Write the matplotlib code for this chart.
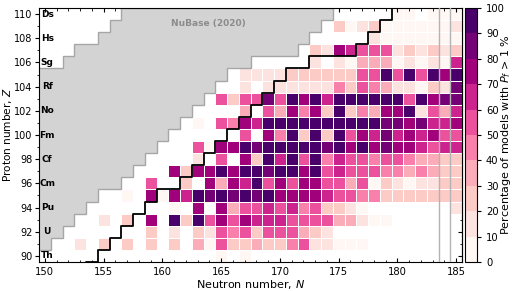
import numpy as np
import matplotlib
matplotlib.use("Agg")
import matplotlib.pyplot as plt
from matplotlib.colors import BoundaryNorm
from matplotlib.patches import Polygon
from matplotlib.ticker import MultipleLocator

_ = np.nan

# Neutron numbers (columns) and proton numbers (rows)
N_values = list(range(150, 186))
Z_values = list(range(90, 111))

# Percentage of models with P_f > 1 %, one list per Z, N = 150..185 (nan = no data)
z090 = [_, _, _, _, _, _, _, _, _, _, _, _, _, _, _, 5, _, 5, _, _, _, _, _, _, _, _, _, _, _, _, _, _, _, _, _, _]
z091 = [_, _, _, 15, _, 25, _, 25, _, 25, _, 25, _, 35, 5, 55, 25, 25, 35, 25, 25, 45, 55, 15, 15, 5, 5, 5, _, _, _, _, _, _, _, _]
z092 = [_, _, _, _, _, _, _, _, _, 25, _, 15, _, 25, 15, 55, 45, 55, 25, 55, 55, 55, 35, 25, 15, _, _, _, _, _, _, _, _, _, _, _]
z093 = [_, _, _, _, _, 15, _, 25, _, 75, _, 95, 25, 95, 55, 75, 55, 75, 65, 65, 65, 55, 55, 55, 55, 35, 35, 15, 5, 5, _, _, _, _, _, _]
z094 = [_, _, _, _, _, _, _, _, _, _, _, 5, _, 75, _, 75, 35, 55, 55, 65, 55, 65, 45, 55, 25, 25, 15, 5, _, _, _, _, _, _, _, 15]
z095 = [_, _, _, _, _, _, _, 5, _, 75, 5, 75, 65, 95, 85, 95, 85, 95, 85, 95, 75, 75, 75, 75, 65, 55, 55, 45, 45, 25, 25, 25, 25, 25, 25, 25]
z096 = [_, _, _, _, _, _, _, _, _, 55, _, _, 25, _, 75, 35, 75, 65, 95, 55, 75, 55, 75, 75, 55, 55, 35, 55, 5, 25, 15, 5, 15, 15, 25, 25]
z097 = [_, _, _, _, _, _, _, _, _, _, _, 75, 25, 75, 75, 95, 75, 95, 95, 85, 95, 95, 75, 95, 55, 65, 55, 55, 55, 45, 45, 35, 45, 35, 25, 25]
z098 = [_, _, _, _, _, _, _, _, _, _, _, _, _, 15, _, 55, _, 75, 25, 95, 65, 95, 55, 95, 45, 65, 55, 55, 45, 55, 55, 45, 35, 35, 25, 25]
z099 = [_, _, _, _, _, _, _, _, _, _, _, _, _, 55, 5, 75, 75, 95, 85, 95, 95, 95, 95, 95, 85, 95, 75, 95, 75, 85, 75, 75, 65, 55, 65, 65]
z100 = [_, _, _, _, _, _, _, _, _, _, _, _, _, _, _, _, _, 55, _, 75, 45, 95, 25, 95, 25, 95, 55, 75, 65, 85, 65, 75, 65, 75, 55, 55]
z101 = [_, _, _, _, _, _, _, _, _, _, _, _, _, 5, _, 55, 45, 75, 65, 95, 95, 95, 95, 95, 95, 95, 95, 95, 95, 85, 85, 75, 85, 65, 65, 75]
z102 = [_, _, _, _, _, _, _, _, _, _, _, _, _, _, _, _, _, 35, _, 55, 35, 75, 45, 75, 25, 95, 25, 45, 35, 75, 75, 95, 15, 55, 35, 65]
z103 = [_, _, _, _, _, _, _, _, _, _, _, _, _, _, _, 55, 25, 55, 55, 85, 55, 95, 75, 95, 65, 95, 95, 95, 95, 95, 95, 55, 95, 75, 85, 85]
z104 = [_, _, _, _, _, _, _, _, _, _, _, _, _, _, _, _, _, 15, _, 15, 15, 15, 15, 15, 15, 45, 25, 55, 45, 35, 15, 15, 5, 25, 15, 85]
z105 = [_, _, _, _, _, _, _, _, _, _, _, _, _, _, _, _, _, 15, 15, 15, 15, 25, 25, 25, 25, 25, 25, 55, 55, 95, 55, 95, 55, 95, 75, 95]
z106 = [_, _, _, _, _, _, _, _, _, _, _, _, _, _, _, _, _, _, _, _, _, _, _, 15, _, 15, 5, 35, 35, 35, 5, 15, 5, 15, 5, 65]
z107 = [_, _, _, _, _, _, _, _, _, _, _, _, _, _, _, _, _, _, _, _, _, _, _, 25, 15, 75, 65, 55, 55, 55, 15, 25, 15, 25, 15, 25]
z108 = [_, _, _, _, _, _, _, _, _, _, _, _, _, _, _, _, _, _, _, _, _, _, _, _, _, _, _, _, 15, 5, 5, 5, 5, 5, 5, 5]
z109 = [_, _, _, _, _, _, _, _, _, _, _, _, _, _, _, _, _, _, _, _, _, _, _, _, _, 25, 5, 15, 25, 5, 5, 5, 5, 5, 5, 15]
z110 = [_, _, _, _, _, _, _, _, _, _, _, _, _, _, _, _, _, _, _, _, _, _, _, _, _, _, _, _, _, _, 5, 5, _, 5, 5, 5]

# NuBase (2020) known nuclei: per Z, first and last N
nubase_Z = [91, 92, 93, 94, 95, 96, 97, 98, 99, 100, 101, 102, 103, 104, 105, 106, 107, 108, 109, 110]
nubase_Nmin = [140, 140, 140, 140, 140, 140, 140, 140, 140, 140, 140, 140, 140, 140, 140, 152, 153, 155, 156, 157]
nubase_Nmax = [150, 151, 152, 153, 154, 156, 157, 158, 159, 160, 161, 162, 163, 164, 165, 167, 171, 172, 173, 174]

# Black boundary: last N inside, per Z
line_Z = list(range(89, 112))
line_Nmax = [153, 154, 155, 156, 157, 158, 159, 161, 162, 163, 164, 165, 166, 167, 168, 169, 170, 172, 176, 177, 178, 179, 180]

# Vertical reference lines
vlines_N = [183.5, 184.5]

elements = ["Th", "U", "Pu", "Cm", "Cf", "Fm", "No", "Rf", "Sg", "Hs", "Ds"]
element_Z = [90, 92, 94, 96, 98, 100, 102, 104, 106, 108, 110]

rows = [z090, z091, z092, z093, z094, z095, z096, z097, z098, z099, z100,
        z101, z102, z103, z104, z105, z106, z107, z108, z109, z110]
data = np.ma.masked_invalid(np.array(rows, dtype=float))

fig = plt.figure(figsize=(5.18, 2.91), dpi=100)
ax = fig.add_axes([39 / 518, 29 / 291, 423 / 518, 254 / 291])
cax = fig.add_axes([465 / 518, 29 / 291, 12 / 518, 254 / 291])

cmap = plt.get_cmap("RdPu", 10)
norm = BoundaryNorm(np.arange(0, 101, 10), cmap.N)
Nedges = np.arange(N_values[0] - 0.5, N_values[-1] + 1.0, 1.0)
Zedges = np.arange(Z_values[0] - 0.5, Z_values[-1] + 1.0, 1.0)
mesh = ax.pcolormesh(Nedges, Zedges, data, cmap=cmap, norm=norm,
                     edgecolors="white", linewidth=0.6, zorder=1)

# NuBase polygon
verts = [(nubase_Nmin[0] - 0.5, nubase_Z[0] - 0.5)]
for z, nmax in zip(nubase_Z, nubase_Nmax):
    verts.append((nmax + 0.5, z - 0.5))
    verts.append((nmax + 0.5, z + 0.5))
for z, nmin in zip(nubase_Z[::-1], nubase_Nmin[::-1]):
    verts.append((nmin - 0.5, z + 0.5))
    verts.append((nmin - 0.5, z - 0.5))
ax.add_patch(Polygon(verts, closed=True, facecolor="#d3d3d3",
                     edgecolor="#a6a6a6", linewidth=1.0, zorder=2))
ax.text(163.9, 109.2, "NuBase (2020)", color="#8c8c8c", fontsize=6.5,
        fontweight="bold", ha="center", va="center", zorder=5)

# black staircase
lx, ly = [], []
for z, nmax in zip(line_Z, line_Nmax):
    lx += [nmax + 0.5, nmax + 0.5]
    ly += [z - 0.5, z + 0.5]
ax.plot(lx, ly, color="black", linewidth=1.3, zorder=4, clip_on=True)

for v in vlines_N:
    ax.axvline(v, color="#b3b3b3", linewidth=1.0, zorder=3)

for el, z in zip(elements, element_Z):
    ax.text(150.2, z, el, fontsize=6.5, fontweight="bold", ha="center",
            va="center", zorder=6)

ax.set_xlim(149.5, 185.5)
ax.set_ylim(89.5, 110.5)
ax.set_xticks(range(150, 186, 5))
ax.set_yticks(range(90, 111, 2))
ax.xaxis.set_minor_locator(MultipleLocator(1))
ax.yaxis.set_minor_locator(MultipleLocator(1))
ax.tick_params(axis="x", which="both", direction="in", top=True, labelsize=7.2)
ax.tick_params(axis="y", which="both", direction="out", right=False, labelsize=7, pad=1.5)
ax.tick_params(which="major", length=3)
ax.tick_params(which="minor", length=1.8)
ax.set_xlabel("Neutron number, $N$", fontsize=8, labelpad=1)
ax.set_ylabel("Proton number, $Z$", fontsize=7.6)
ax.yaxis.set_label_coords(-0.058, 0.5)

sec = ax.secondary_yaxis("right")
sec.set_yticks(range(90, 111, 2))
sec.yaxis.set_minor_locator(MultipleLocator(1))
sec.tick_params(which="both", direction="in", labelright=False)
sec.tick_params(which="major", length=3)
sec.tick_params(which="minor", length=1.8)

cb = fig.colorbar(mesh, cax=cax, ticks=np.arange(0, 101, 10))
cb.ax.tick_params(labelsize=7.2, length=3)
cb.set_label("Percentage of models with $P_f$ > 1 %", fontsize=8)
cax.yaxis.set_label_coords(2.85, 0.5)
cb.outline.set_linewidth(0.8)

fig.savefig("out.png", dpi=100)
